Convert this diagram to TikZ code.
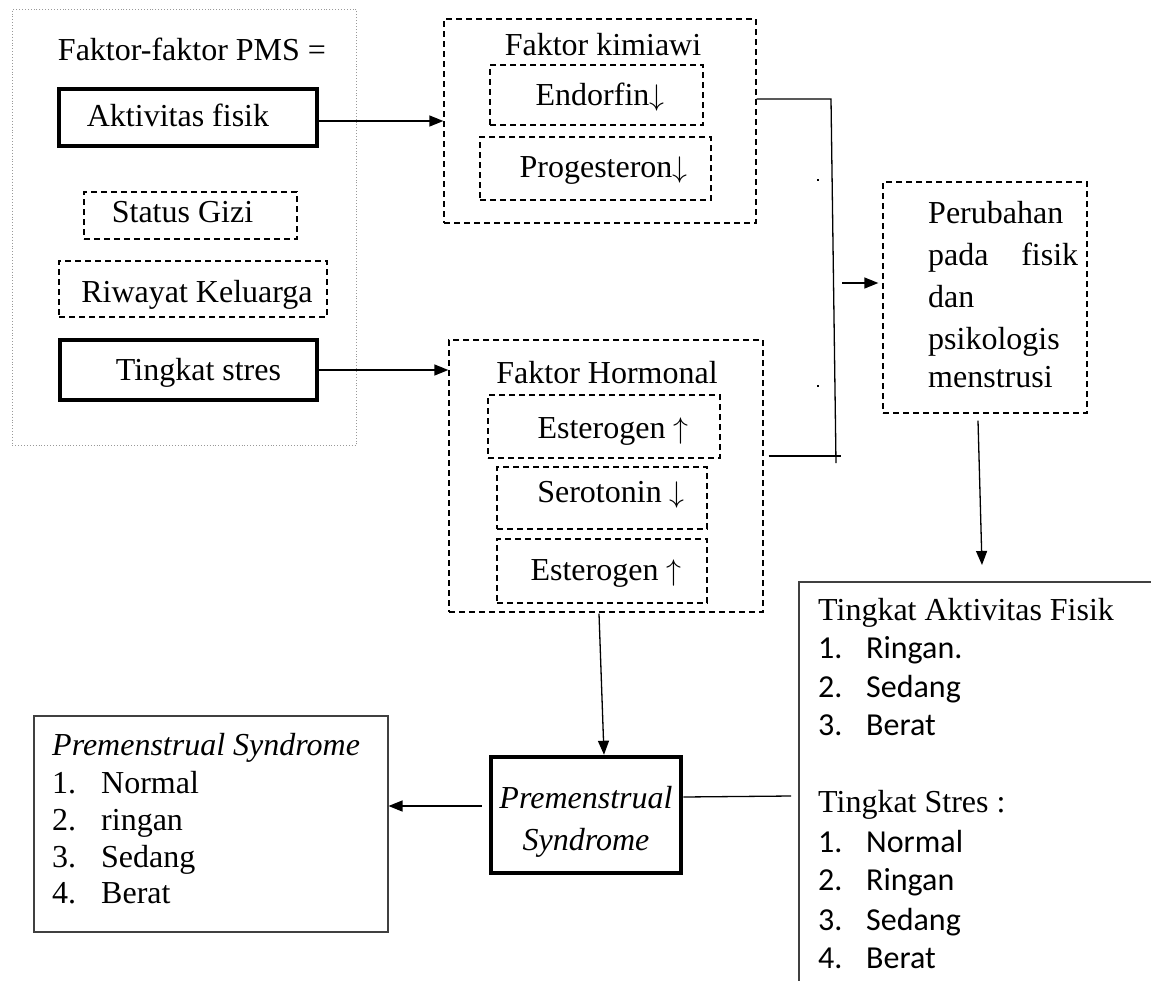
\documentclass[tikz,border=0pt]{standalone}
\usepackage{graphicx}
\usepackage{fontspec}
\setmainfont{Liberation Serif}
\newfontfamily\calfont{Carlito}
\usetikzlibrary{arrows.meta,calc}
\newcommand\mvx[2]{\hspace*{#1pt}#2\hspace*{-#1pt}}
\newcommand\darr{\scalebox{1.2}{$\downarrow$}}
\newcommand\uarr{\scalebox{1.2}{$\uparrow$}}
\begin{document}
\begin{tikzpicture}[x=1pt,y=-1pt,
  every node/.style={font=\fontsize{32}{38}\selectfont, inner sep=0pt},
  thickbox/.style={draw, line width=4.5pt, rectangle, text height=22pt, text depth=4pt},
  dbox/.style={draw, line width=1.3pt, dash pattern=on 6pt off 4pt, rectangle, text height=22pt, text depth=4pt},
  thinbox/.style={draw=black!75, line width=1.5pt, rectangle},
  conn/.style={line width=1.3pt},
  arr/.style={conn, -{Triangle[length=14pt,width=11pt]}},
  txt/.style={anchor=base west},
  ctxt/.style={anchor=base west, font=\fontsize{32}{38}\calfont},
]
\useasboundingbox (0,0) rectangle (1151,980);
\clip (0,0) rectangle (1151,980);
\fill[white] (0,0) rectangle (1151,980);

% left frame of factors
\node[draw=black!40, line width=0.9pt, dotted, minimum width=344pt, minimum height=436pt, anchor=north west] (frame) at (12,9) {};
\node[anchor=base] (ftitle) at (192,60) {Faktor-faktor PMS =};
\node[thickbox, minimum width=258pt, minimum height=57pt] (akt) at (188,117.5) {\mvx{-10}{Aktivitas fisik}};
\node[dbox, minimum width=213pt, minimum height=47pt, text height=17pt, text depth=4pt] (gizi) at (190.5,215.5) {\mvx{-8}{Status Gizi}};
\node[dbox, minimum width=268pt, minimum height=56pt, text height=26pt, text depth=0pt] (riw) at (193,289) {\mvx{4}{Riwayat Keluarga}};
\node[thickbox, minimum width=257pt, minimum height=60pt, text height=24pt, text depth=4pt] (stres) at (188.5,370) {\mvx{10}{Tingkat stres}};

% Faktor kimiawi
\node[dbox, minimum width=312pt, minimum height=204pt] (kim) at (600,121) {};
\node[anchor=base] (kimt) at (603,55) {Faktor kimiawi};
\node[dbox, minimum width=213pt, minimum height=60pt, text height=24pt, text depth=4pt] (endo) at (596.5,95) {\mvx{3.5}{Endorfin\darr}};
\node[dbox, minimum width=231pt, minimum height=63pt, text height=21pt, text depth=4pt] (prog) at (595.5,168.5) {\mvx{8}{Progesteron\darr}};

% Faktor hormonal
\node[dbox, minimum width=314pt, minimum height=272pt] (hor) at (606,476) {};
\node[anchor=base] (hort) at (607,383) {Faktor Hormonal};
\node[dbox, minimum width=232pt, minimum height=63pt, text height=27pt, text depth=4pt] (est1) at (604,426.5) {\mvx{9}{Esterogen \uarr}};
\node[dbox, minimum width=210pt, minimum height=62pt, text height=12pt, text depth=4pt] (sero) at (602,498) {\mvx{9}{Serotonin \darr}};
\node[dbox, minimum width=210pt, minimum height=64pt, text height=22pt, text depth=4pt] (est2) at (602,571) {\mvx{4}{Esterogen \uarr}};

% Perubahan
\node[dbox, minimum width=204pt, minimum height=231pt] (per) at (985,297.5) {};
\node[anchor=base west, text width=150pt, align=left] (pertxt) at (928,223)
  {\baselineskip=42pt Perubahan\\ pada\hfill fisik\\ dan\\ psikologis\\ menstrusi};

% Tingkat box (clipped at right and bottom)
\node[thinbox, minimum width=420pt, minimum height=450pt, anchor=north west] (tk) at (798,581) {};
\node[txt] (tk0) at (818,620) {Tingkat Aktivitas Fisik};
\node[ctxt] (tk1) at (818,658) {1.};
\node[ctxt] (tk1b) at (866,658) {Ringan.};
\node[ctxt] (tk2) at (818,697) {2.};
\node[ctxt] (tk2b) at (866,697) {Sedang};
\node[ctxt] (tk3) at (818,735) {3.};
\node[ctxt] (tk3b) at (866,735) {Berat};
\node[txt] (tks) at (818,812) {Tingkat Stres :};
\node[ctxt] (ts1) at (818,852) {1.};
\node[ctxt] (ts1b) at (866,852) {Normal};
\node[ctxt] (ts2) at (818,890) {2.};
\node[ctxt] (ts2b) at (866,890) {Ringan};
\node[ctxt] (ts3) at (818,930) {3.};
\node[ctxt] (ts3b) at (866,930) {Sedang};
\node[ctxt] (ts4) at (818,968) {4.};
\node[ctxt] (ts4b) at (866,968) {Berat};

% PMS centre box
\node[thickbox, minimum width=190pt, minimum height=116pt, align=center, text height=78pt, text depth=, font=\fontsize{32}{42}\selectfont\itshape] (pms) at (586,815) {Premenstrual\\Syndrome};

% left PMS list box
\node[thinbox, minimum width=354pt, minimum height=216pt, anchor=north west] (lbox) at (33,715) {};
\node[txt, font=\fontsize{32}{38}\selectfont\itshape] (l0) at (52,755) {Premenstrual Syndrome};
\node[txt] (l1) at (52,793) {1.};
\node[txt] (l1b) at (101,793) {Normal};
\node[txt] (l2) at (52,830) {2.};
\node[txt] (l2b) at (101,830) {ringan};
\node[txt] (l3) at (52,867) {3.};
\node[txt] (l3b) at (101,867) {Sedang};
\node[txt] (l4) at (52,903) {4.};
\node[txt] (l4b) at (101,903) {Berat};

% connectors
\draw[arr] (akt.east |- kim.west) -- (kim.west);
\draw[arr] (stres.east) -- (stres.east -| hor.west);

\coordinate (j1) at (831,99);
\coordinate (j2) at (836,463);
\coordinate (j3) at (841,456);
\draw[conn] (kim.east |- j1) -- (j1) -- (j2);
\draw[conn] ($(hor.east |- j3)+(5,0)$) -- (j3);
\fill (817,179) rectangle (819,181);
\fill (817,385) rectangle (819,387);

\coordinate (a0) at (842,283);
\draw[arr] (a0) -- ($(per.west |- a0)+(-4,0)$);

\draw[arr] ($(per.south)+(-7,7)$) -- ($(tk.north -| per.south)+(-3,-16)$);

\draw[arr] ($(hor.south)+(-7,1)$) -- ($(pms.north)+(18,0)$);

\coordinate (l1c) at ($(pms.west)+(-7,-9)$);
\draw[arr] (l1c) -- (l1c -| lbox.east);

\coordinate (l2c) at ($(pms.east)+(0,-18)$);
\draw[conn] (l2c) -- ($(l2c -| tk.west)+(-7,-1)$);
\end{tikzpicture}
\end{document}
